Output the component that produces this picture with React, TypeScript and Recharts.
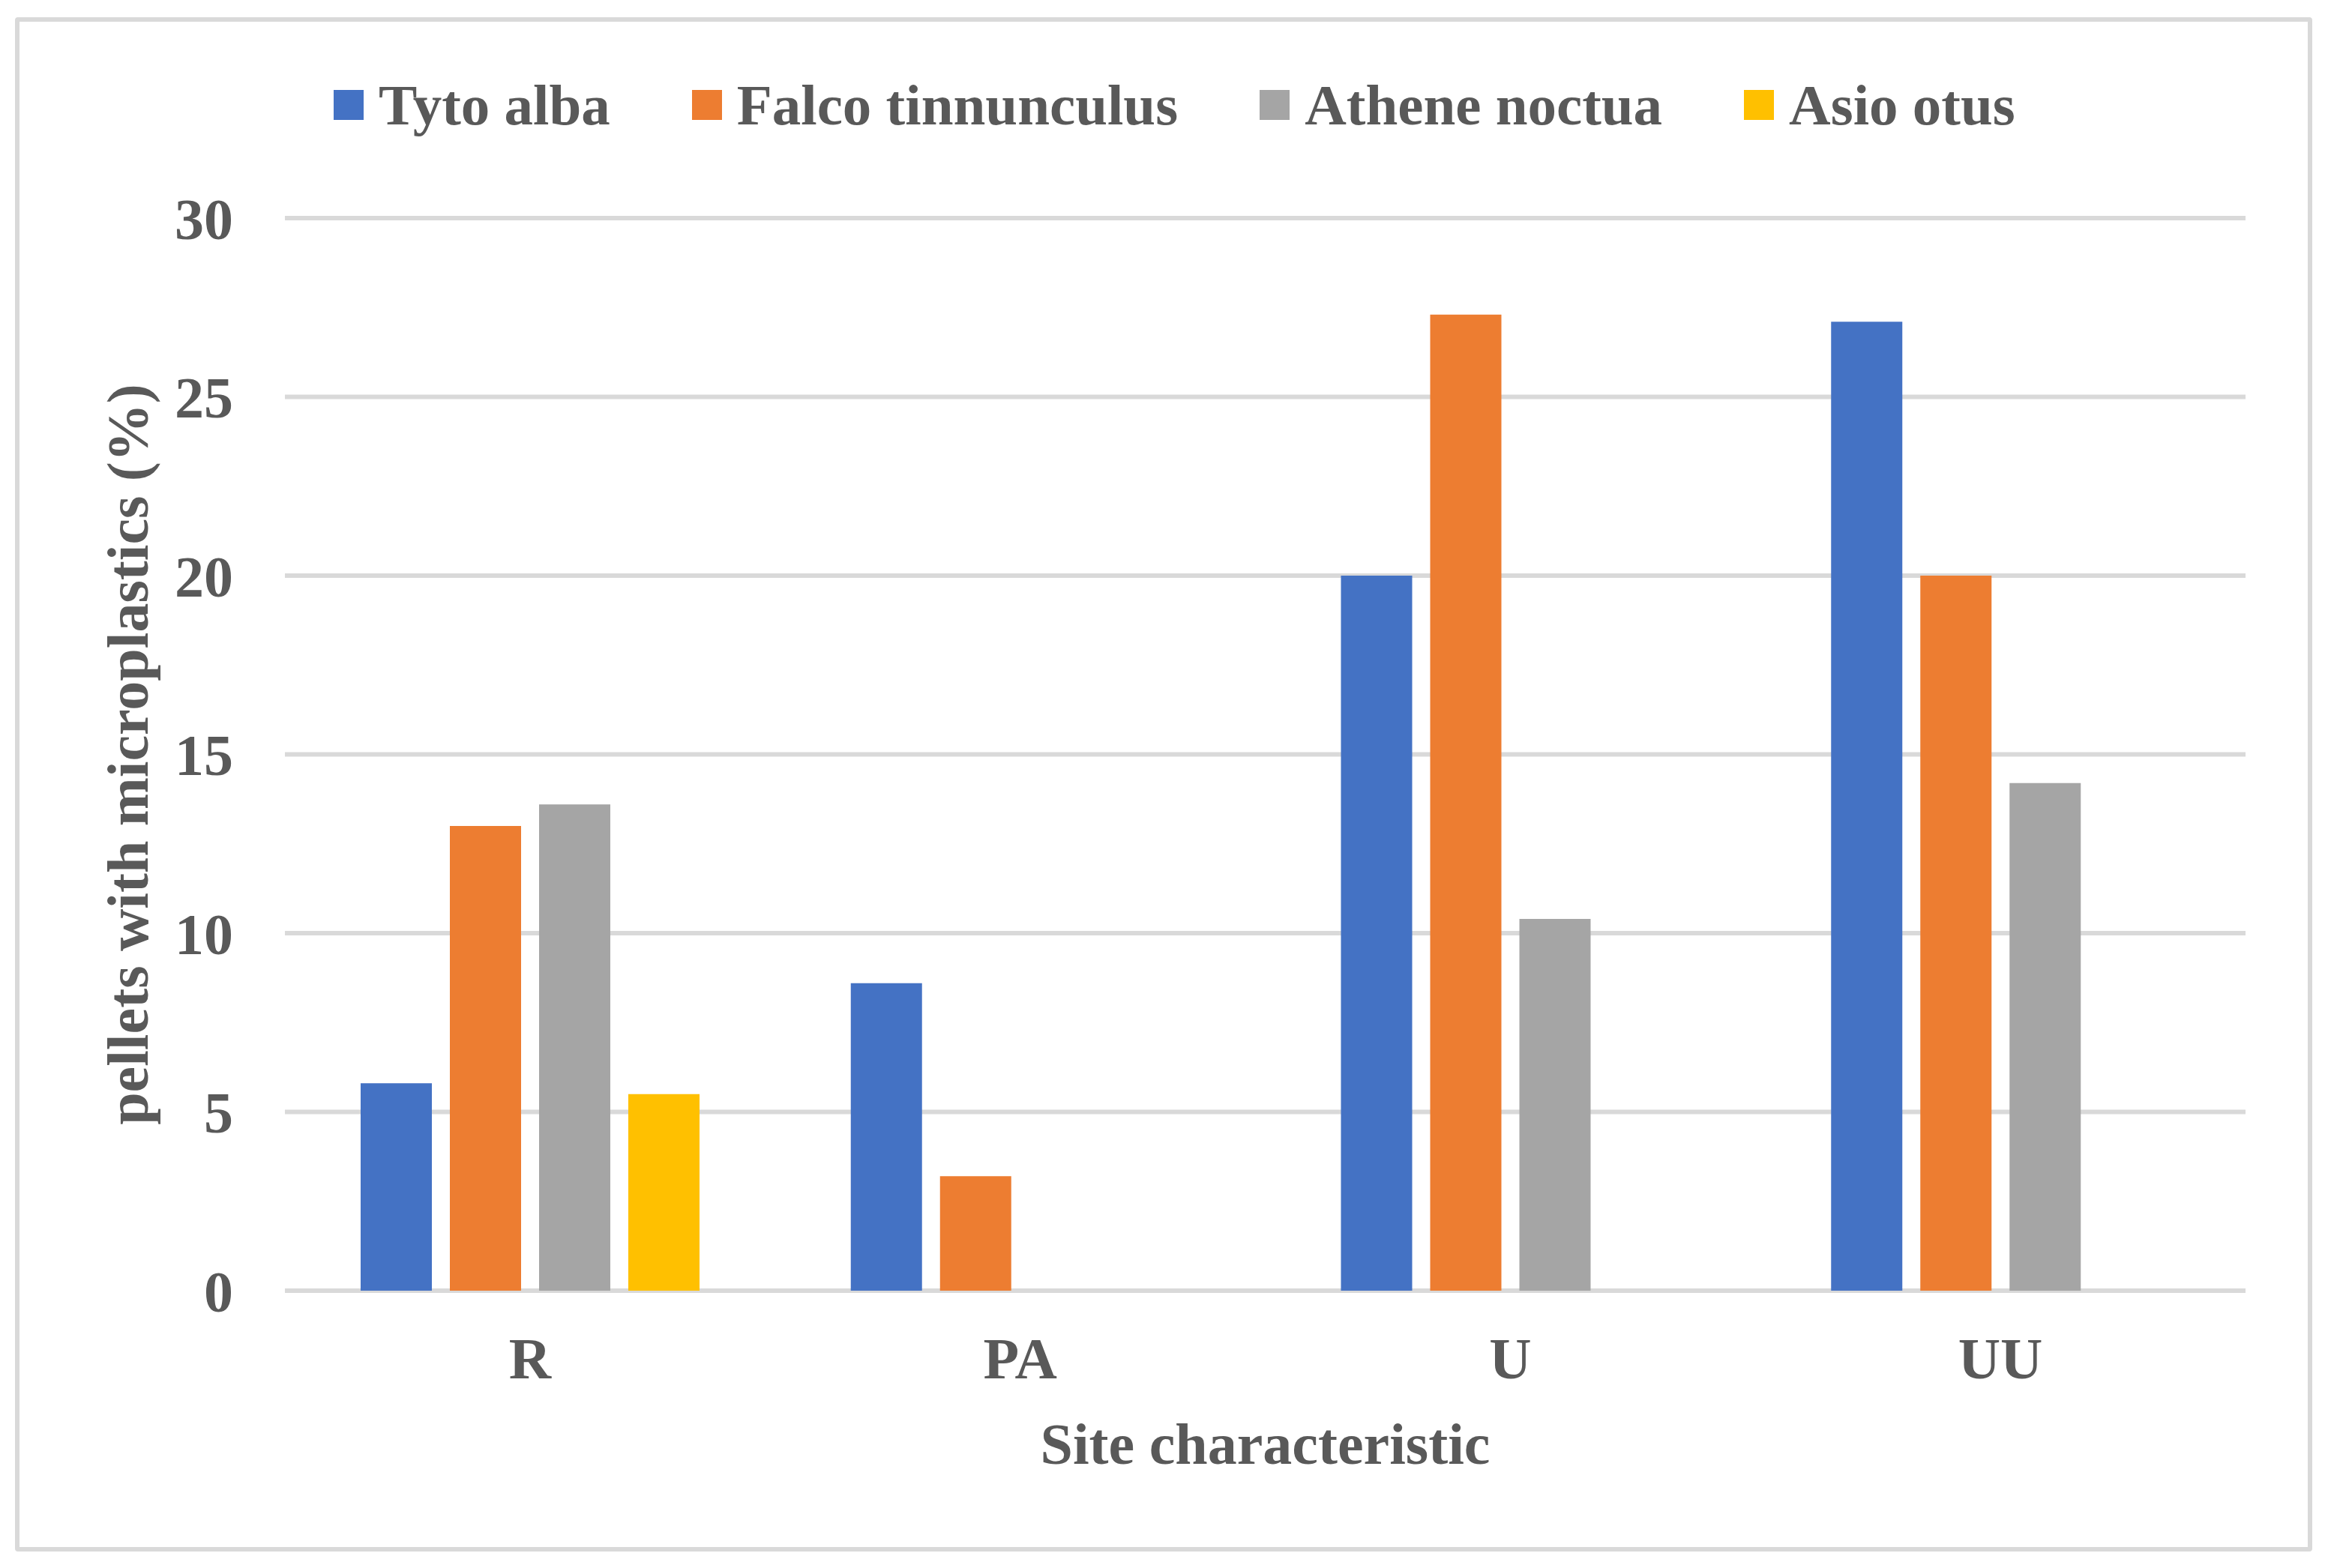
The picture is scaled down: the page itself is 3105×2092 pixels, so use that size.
import React from "react";
import { BarChart, Bar, XAxis, YAxis, CartesianGrid, Legend, Label } from "recharts";

const sites = ["R", "PA", "U", "UU"];
const tytoAlba = [5.8, 8.6, 20.0, 27.1];
const falcoTinnunculus = [13.0, 3.2, 27.3, 20.0];
const atheneNoctua = [13.6, null, 10.4, 14.2];
const asioOtus = [5.5, null, null, null];
const yTicks = [0, 5, 10, 15, 20, 25, 30];

const series = [
  { key: "Tyto alba", values: tytoAlba, color: "#4472C4" },
  { key: "Falco tinnunculus", values: falcoTinnunculus, color: "#ED7D31" },
  { key: "Athene noctua", values: atheneNoctua, color: "#A5A5A5" },
  { key: "Asio otus", values: asioOtus, color: "#FFC000" },
];

const data = sites.map((site, i) => {
  const row: any = { site };
  series.forEach((s) => {
    row[s.key] = s.values[i];
  });
  return row;
});

const FONT = "'Liberation Serif', 'Times New Roman', serif";
const TEXT = "#595959";

const LegendContent = () => (
  <div style={{ display: "flex", alignItems: "center", height: 80, fontFamily: FONT, fontWeight: "bold", fontSize: 77, color: TEXT, lineHeight: "80px", whiteSpace: "nowrap" }}>
    {series.map((s, i) => (
      <div key={s.key} style={{ display: "flex", alignItems: "center", marginRight: i < series.length - 1 ? 109 : 0 }}>
        <div style={{ width: 40, height: 40, background: s.color, marginRight: 20 }} />
        <span>{s.key}</span>
      </div>
    ))}
  </div>
);

export default function App() {
  return (
    <div style={{ position: "absolute", left: 0, top: 0, width: 3105, height: 2092, background: "#fff" }}>
      <div
        style={{
          position: "absolute",
          left: 20,
          top: 23,
          width: 3064,
          height: 2047,
          boxSizing: "border-box",
          border: "6px solid #D9D9D9",
          borderRadius: 4,
        }}
      />
      <BarChart
        width={3105}
        height={2092}
        data={data}
        margin={{ top: 211, right: 110, left: 80, bottom: 70 }}
        barSize={95}
        barGap={24}
        style={{ position: "absolute", left: 0, top: 0 }}
      >
        <CartesianGrid vertical={false} stroke="#D9D9D9" strokeWidth={6} />
        <XAxis
          dataKey="site"
          height={300}
          axisLine={false}
          tickLine={false}
          tickSize={0}
          tickMargin={62}
          tick={{ fill: TEXT, fontSize: 78, fontWeight: "bold", fontFamily: FONT }}
        >
          <Label
            content={({ viewBox }: any) => (
              <text
                x={viewBox.x + viewBox.width / 2}
                y={viewBox.y + 231}
                textAnchor="middle"
                fill={TEXT}
                fontSize={78}
                fontWeight="bold"
                fontFamily={FONT}
              >
                Site characteristic
              </text>
            )}
          />
        </XAxis>
        <YAxis
          width={300}
          domain={[0, 30]}
          ticks={yTicks}
          axisLine={false}
          tickLine={false}
          tickSize={0}
          tickMargin={69}
          tick={{ fill: TEXT, fontSize: 78, fontWeight: "bold", fontFamily: FONT }}
        >
          <Label
            content={({ viewBox }: any) => {
              const x = viewBox.x + 117;
              const y = viewBox.y + viewBox.height / 2;
              return (
                <text
                  x={x}
                  y={y}
                  transform={`rotate(-90, ${x}, ${y})`}
                  textAnchor="middle"
                  fill={TEXT}
                  fontSize={78}
                  fontWeight="bold"
                  fontFamily={FONT}
                >
                  pellets with microplastics (%)
                </text>
              );
            }}
          />
        </YAxis>
        <Legend
          verticalAlign="top"
          align="left"
          height={80}
          content={<LegendContent />}
          wrapperStyle={{ top: 100, left: 445, width: "auto" }}
        />
        {series.map((s) => (
          <Bar key={s.key} dataKey={s.key} fill={s.color} isAnimationActive={false} />
        ))}
      </BarChart>
    </div>
  );
}
